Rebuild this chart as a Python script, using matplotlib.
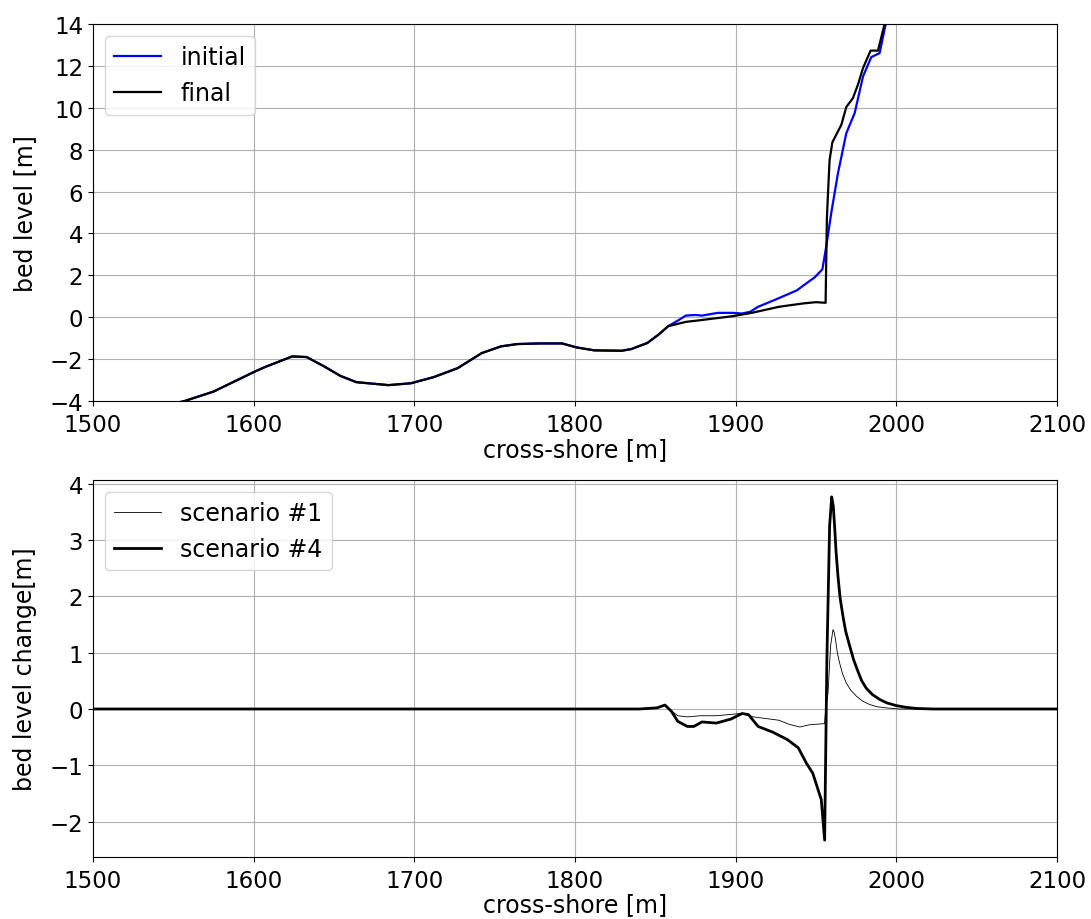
import matplotlib
matplotlib.use("Agg")
import matplotlib.pyplot as plt

# ---- top panel: bed level profiles ----
x_common = [1500, 1540, 1557, 1575, 1600, 1607, 1624, 1633, 1644, 1654, 1664, 1684, 1698,
            1712, 1727, 1742, 1754, 1764, 1778, 1792, 1801, 1812, 1829, 1835, 1845, 1852, 1858]
z_common = [-5.2, -4.3, -4.0, -3.55, -2.62, -2.38, -1.87, -1.90, -2.35, -2.80, -3.10, -3.24, -3.15,
            -2.86, -2.43, -1.71, -1.39, -1.28, -1.25, -1.25, -1.44, -1.58, -1.60, -1.52, -1.23, -0.83, -0.43]

x_init_tail = [1864, 1869, 1875, 1879, 1889, 1898, 1904, 1909, 1914, 1925, 1938, 1946, 1949, 1954,
               1956.4, 1959.5, 1963.7, 1968.9, 1974.1, 1979.3, 1984.4, 1989.6, 1993.4, 2000]
z_init_tail = [-0.16, 0.08, 0.11, 0.08, 0.21, 0.21, 0.18, 0.26, 0.50, 0.85, 1.28, 1.73, 1.89, 2.29,
               3.38, 4.97, 6.88, 8.79, 9.75, 11.5, 12.42, 12.61, 14.0, 16.0]

x_final_tail = [1869, 1878, 1898, 1910, 1927, 1942, 1950, 1956, 1956.8, 1957.5, 1958.5, 1960.2,
                1965.8, 1968.9, 1973, 1976.1, 1979.3, 1984, 1988.6, 1992.7, 2000]
z_final_tail = [-0.22, -0.14, 0.05, 0.21, 0.50, 0.66, 0.72, 0.69, 4.7, 5.93, 7.52, 8.35,
                9.19, 10.04, 10.46, 11.1, 11.9, 12.73, 12.73, 14.0, 16.0]

x_initial = x_common + x_init_tail
z_initial = z_common + z_init_tail
x_final = x_common + x_final_tail
z_final = z_common + z_final_tail

# ---- bottom panel: bed level change ----
x_s1 = [1450, 1840, 1851, 1856, 1860, 1864, 1870, 1878, 1888, 1903, 1909, 1911, 1927, 1933, 1940,
        1946, 1955.4, 1956, 1957.5, 1959.1, 1960.6, 1961.4, 1962.2, 1963.3, 1964.7, 1966.5, 1968.9,
        1971.5, 1975.1, 1979, 1983.4, 1988, 1993.8, 2002, 2150]
dz_s1 = [0.0, 0.0, 0.02, 0.06, -0.03, -0.12, -0.14, -0.12, -0.12, -0.08, -0.12, -0.14, -0.20, -0.27,
         -0.32, -0.28, -0.26, 0.0, 0.28, 1.12, 1.41, 1.36, 1.23, 1.0, 0.82, 0.63, 0.46,
         0.34, 0.23, 0.14, 0.08, 0.04, 0.02, 0.0, 0.0]

x_s4 = [1450, 1840, 1851, 1856, 1860, 1864, 1870, 1874, 1879, 1888, 1897, 1904, 1908, 1914, 1923,
        1932, 1939, 1944, 1948, 1953.3, 1955.4, 1956.8, 1958.5, 1959.8, 1960.8, 1961.6, 1962.5,
        1963.7, 1965, 1966.8, 1968.5, 1971, 1973.5, 1976.1, 1978.5, 1981.3, 1985, 1989.6, 1994,
        2000, 2006, 2012.4, 2022.8, 2150]
dz_s4 = [0.0, 0.0, 0.02, 0.07, -0.04, -0.22, -0.31, -0.31, -0.23, -0.25, -0.18, -0.08, -0.10, -0.31,
         -0.41, -0.54, -0.69, -0.96, -1.14, -1.61, -2.33, 0.88, 3.25, 3.77, 3.6, 3.25, 2.8,
         2.36, 1.98, 1.65, 1.38, 1.12, 0.87, 0.67, 0.5, 0.37, 0.26, 0.17, 0.11,
         0.06, 0.03, 0.01, 0.0, 0.0]

FS = 17
TFS = 16.5
plt.rcParams['font.size'] = FS

fig = plt.figure(figsize=(10.91, 9.20), dpi=100)
ax1 = fig.add_axes([0.0852, 0.563, 0.8836, 0.4098])
ax2 = fig.add_axes([0.0852, 0.0674, 0.8836, 0.4098])

ax1.plot(x_initial, z_initial, color='blue', lw=1.6, label='initial')
ax1.plot(x_final, z_final, color='black', lw=1.6, label='final')
ax1.set_xlim(1500, 2100)
ax1.set_ylim(-4, 14)
ax1.set_yticks(range(-4, 15, 2))
ax1.set_xlabel('cross-shore [m]', fontsize=FS, labelpad=1)
ax1.set_ylabel('bed level [m]', fontsize=FS, labelpad=9)
ax1.grid(True)
ax1.legend(loc='upper left', fontsize=FS)
ax1.tick_params(axis='y', labelsize=TFS)
ax1.tick_params(axis='x', labelsize=TFS, pad=5)

ax2.plot(x_s1, dz_s1, color='black', lw=0.6, label='scenario #1')
ax2.plot(x_s4, dz_s4, color='black', lw=2.0, label='scenario #4')
ax2.set_xlim(1500, 2100)
ax2.set_ylim(-2.63, 4.07)
ax2.set_xlabel('cross-shore [m]', fontsize=FS, labelpad=0)
ax2.set_ylabel('bed level change[m]', fontsize=FS, labelpad=9)
ax2.grid(True)
ax2.legend(loc='upper left', fontsize=FS)
ax2.tick_params(axis='y', labelsize=TFS)
ax2.tick_params(axis='x', labelsize=TFS, pad=5)

fig.savefig('out.png', dpi=100)
